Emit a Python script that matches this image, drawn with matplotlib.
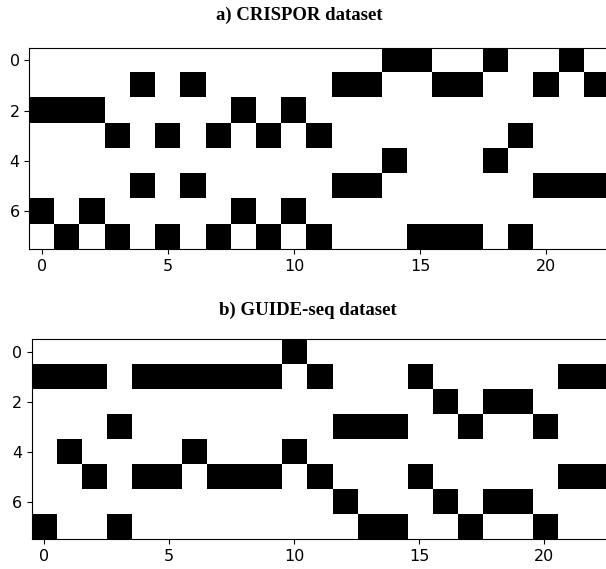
import numpy as np
import matplotlib
matplotlib.use("Agg")
import matplotlib.pyplot as plt

n_rows, n_cols = 8, 23

# black cells (value 1) per row
crispor_ones = [
    [14, 15, 18, 21],
    [4, 6, 12, 13, 16, 17, 20, 22],
    [0, 1, 2, 8, 10],
    [3, 5, 7, 9, 11, 19],
    [14, 18],
    [4, 6, 12, 13, 20, 21, 22],
    [0, 2, 8, 10],
    [1, 3, 5, 7, 9, 11, 15, 16, 17, 19],
]
guideseq_ones = [
    [10],
    [0, 1, 2, 4, 5, 6, 7, 8, 9, 11, 15, 21, 22],
    [16, 18, 19],
    [3, 12, 13, 14, 17, 20],
    [1, 6, 10],
    [2, 4, 5, 7, 8, 9, 11, 15, 21, 22],
    [12, 16, 18, 19],
    [0, 3, 13, 14, 17, 20],
]
titles = ["a) CRISPOR dataset", "b) GUIDE-seq dataset"]
xticks = [0, 5, 10, 15, 20]
yticks = [0, 2, 4, 6]


def to_matrix(ones):
    m = np.zeros((n_rows, n_cols))
    for r, cols in enumerate(ones):
        m[r, cols] = 1
    return m


W, H = 606, 569
fig = plt.figure(figsize=(W / 100, H / 100), dpi=100)

positions = [
    [29.4 / W, 1 - 249.3 / H, (609.0 - 29.4) / W, 201.8 / H],
    [31.7 / W, 1 - 539.3 / H, (606.8 - 31.7) / W, 200.0 / H],
]
title_pos = [(299.5 / W, 1 - 15.5 / H), (307.5 / W, 1 - 310.5 / H)]

for data, title, pos, tpos in zip([crispor_ones, guideseq_ones], titles, positions, title_pos):
    ax = fig.add_axes(pos)
    ax.imshow(to_matrix(data), cmap="gray_r", vmin=0, vmax=1,
              aspect="auto", interpolation="nearest")
    ax.set_xticks(xticks)
    ax.set_yticks(yticks)
    ax.tick_params(labelsize=11.5)
    fig.text(tpos[0], tpos[1], title, ha="center", va="center",
             family="Liberation Serif", fontweight="bold", fontsize=13.5)

fig.savefig("out.png", dpi=100)
